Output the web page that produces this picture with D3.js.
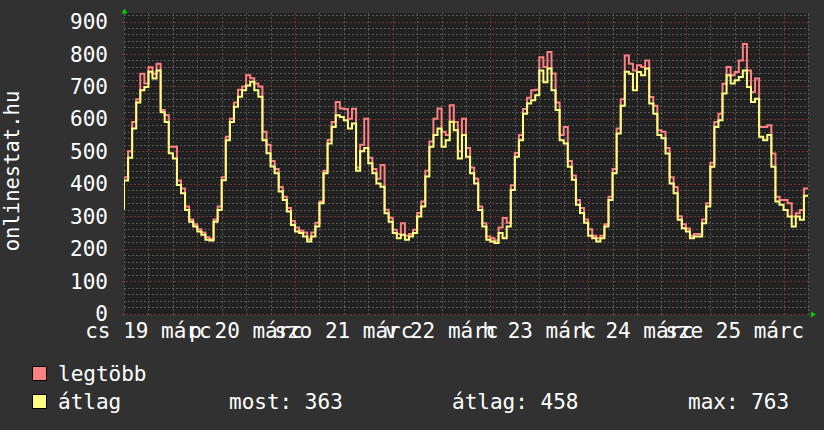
<!DOCTYPE html>
<html><head><meta charset="utf-8">
<script src="https://cdn.jsdelivr.net/npm/d3@7/dist/d3.min.js"></script>
<style>
html,body{margin:0;padding:0;background:#313131;}
svg{display:block;}
text{font-family:"DejaVu Sans Mono",monospace;fill:#ffffff;}
</style></head>
<body>
<svg id="chart" width="824" height="430"></svg>
<script>
// ---- data (hourly, starting 2009-03-19 06:00) ----
const startTime = new Date(2009, 2, 19, 6, 0);
const avgValues = [320,410,480,570,650,688,698,745,724,749,620,590,494,478,396,371,319,283,268,253,243,227,225,283,
319,411,534,590,637,668,688,703,714,688,668,534,494,453,432,376,350,314,273,253,248,237,222,237,
268,340,432,524,575,611,606,596,570,586,440,500,510,463,432,401,391,309,283,248,232,243,227,237,
248,299,330,422,514,550,570,514,534,591,565,478,550,483,432,401,319,268,227,222,217,248,232,268,
381,483,534,616,647,657,673,749,713,755,688,627,534,524,452,412,335,310,280,240,232,222,232,268,
350,432,555,640,745,739,688,744,734,755,647,616,550,540,493,401,371,289,263,253,232,237,237,278,
330,452,575,596,678,734,709,719,729,749,698,652,662,545,534,550,452,345,335,319,299,268,299,289,363];
const maxValues = [330,420,500,590,660,739,709,759,739,770,627,612,514,514,410,385,330,290,275,260,250,235,230,290,
330,420,545,600,650,690,700,734,725,709,700,560,520,470,445,390,360,325,285,265,255,250,230,250,
280,345,440,535,590,652,632,630,600,631,450,520,600,480,445,415,458,320,295,258,245,278,240,245,
258,310,345,440,530,600,632,560,550,642,590,500,600,510,450,415,330,278,237,232,225,265,294,280,
395,495,550,630,665,688,690,790,760,806,740,650,550,575,470,425,350,325,290,260,240,232,240,275,
360,445,570,660,795,770,749,765,760,780,667,640,565,560,510,420,390,300,275,262,240,245,245,290,
340,465,590,616,708,760,734,744,780,831,749,683,724,575,575,580,493,360,350,350,340,299,309,319,385];
const dayLabels = ["cs 19 márc","p 20 márc","szo 21 márc","v 22 márc","h 23 márc","k 24 márc","sze 25 márc"];
const yTickValues = [0,100,200,300,400,500,600,700,800,900];
const seriesNames = ["legtöbb","átlag"];
const seriesColors = ["#ff8080","#ffff80"];
const statTexts = ["most: 363","átlag: 458","max: 763"];

const svg = d3.select("#chart");
const X0 = 124, X1 = 808, YT = 13, YB = 315;
const endTime = d3.timeHour.offset(startTime, avgValues.length - 1);
const x = d3.scaleTime().domain([startTime, endTime]).range([X0, X1]);
const y = d3.scaleLinear().domain([0, 900]).range([313.5, 21.5]);

svg.append("rect").attr("x",0).attr("y",0).attr("width",824).attr("height",430).attr("fill","#313131");
svg.append("rect").attr("x",X0).attr("y",YT).attr("width",X1+1-X0).attr("height",YB-YT).attr("fill","#212121");

const grid = svg.append("g");
// minor horizontal
d3.range(0, 921, 20).filter(v => v % 100 !== 0).forEach(v => {
  grid.append("line").attr("x1",X0).attr("x2",X1+1).attr("y1",Math.round(y(v))+0.5).attr("y2",Math.round(y(v))+0.5)
    .attr("stroke","#5a5a5a").attr("stroke-dasharray","2,2");
});
// minor vertical every 6h
const hours6 = d3.timeHour.every(6).range(startTime, d3.timeHour.offset(endTime,1));
hours6.filter(t => t.getHours() !== 0).forEach(t => {
  grid.append("line").attr("x1",Math.round(x(t))+0.5).attr("x2",Math.round(x(t))+0.5).attr("y1",YT).attr("y2",YB)
    .attr("stroke","#5a5a5a").attr("stroke-dasharray","2,2");
});
// major horizontal
yTickValues.forEach(v => {
  grid.append("line").attr("x1",X0-2).attr("x2",X1+3).attr("y1",Math.round(y(v))+0.5).attr("y2",Math.round(y(v))+0.5)
    .attr("stroke","#7a3434").attr("stroke-dasharray","2,2");
});
// major vertical at midnight
const days = d3.timeDay.every(1).range(startTime, endTime);
days.forEach(t => {
  grid.append("line").attr("x1",Math.round(x(t))+0.5).attr("x2",Math.round(x(t))+0.5).attr("y1",YT).attr("y2",YB+2)
    .attr("stroke","#7a3434").attr("stroke-dasharray","2,2");
});

// y labels
svg.append("g").selectAll("text").data(yTickValues).join("text")
  .attr("x",108).attr("y",d => y(d)).attr("dy","0.36em").attr("text-anchor","end")
  .attr("font-size",21).text(d => d);

// x labels at noon
const noons = dayLabels.map((s,i) => d3.timeHour.offset(d3.timeDay.offset(new Date(2009,2,19),i),12));
svg.append("g").selectAll("text").data(dayLabels).join("text")
  .attr("x",(d,i) => x(noons[i])).attr("y",338).attr("text-anchor","middle")
  .attr("font-size",21).text(d => d);

// vertical title
svg.append("text").attr("transform","translate(18.5,171) rotate(-90)").attr("text-anchor","middle")
  .attr("font-size",20.5).text("onlinestat.hu");

// lines
const clip = svg.append("clipPath").attr("id","clip").append("rect")
  .attr("x",X0).attr("y",YT).attr("width",X1+1-X0).attr("height",YB-YT);
const mkLine = d3.line().x((d,i) => x(d3.timeHour.offset(startTime,i))).y(d => y(d)).curve(d3.curveStepBefore);
const lg = svg.append("g").attr("clip-path","url(#clip)");
[maxValues, avgValues].forEach((vals,k) => {
  lg.append("path").attr("d", mkLine(vals)).attr("fill","none")
    .attr("stroke",seriesColors[k]).attr("stroke-width",2).attr("stroke-linejoin","miter");
});

// arrows
svg.append("path").attr("d","M121.5,13.5 L124.5,8.5 L127.5,13.5 Z").attr("fill","#00d000");
svg.append("path").attr("d","M811,311.5 L816,314.5 L811,317.5 Z").attr("fill","#00d000");

// legend
const leg = svg.append("g");
seriesNames.forEach((n,i) => {
  leg.append("rect").attr("x",32.5).attr("y",366.5 + i*28).attr("width",14).attr("height",14)
    .attr("fill",seriesColors[i]).attr("stroke","#000").attr("stroke-width",1);
  leg.append("text").attr("x",58).attr("y",381 + i*28).attr("font-size",21).text(n);
});
const statX = [229, 452, 688];
statTexts.forEach((s,i) => {
  leg.append("text").attr("x",statX[i]).attr("y",409).attr("font-size",21).text(s);
});
</script>
</body></html>
